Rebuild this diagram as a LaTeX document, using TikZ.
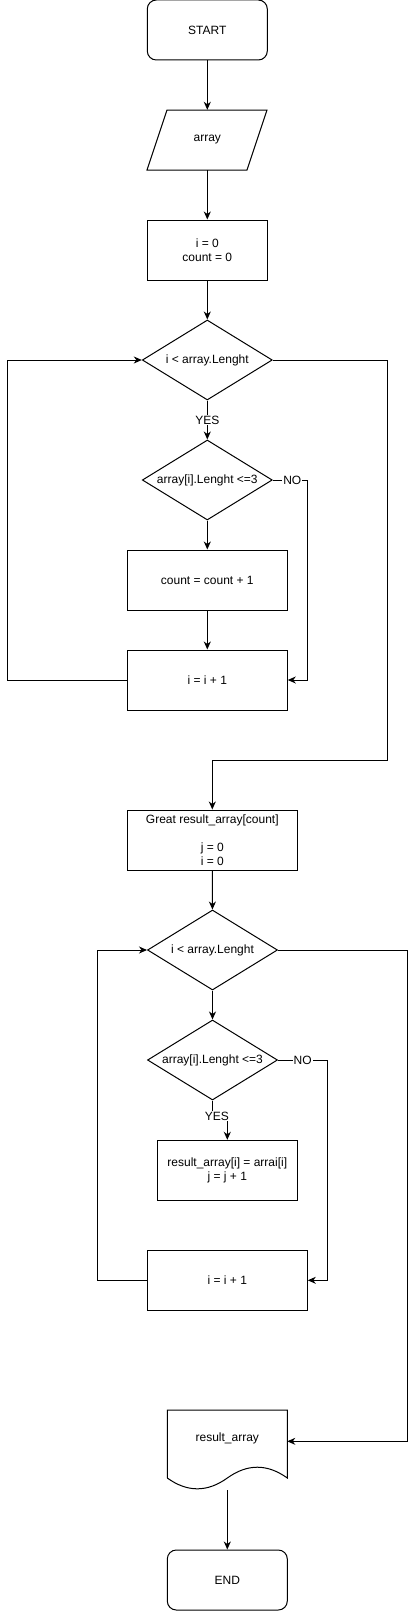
\documentclass[tikz,border=0pt]{standalone}
\usepackage{fontspec}
\setmainfont{Liberation Sans}
\usetikzlibrary{shapes.geometric,arrows.meta,calc}
\begin{document}
\begin{tikzpicture}[x=1pt,y=-1pt,
  every node/.style={font=\fontsize{12}{14}\selectfont, align=center, inner sep=0pt},
  proc/.style={draw, line width=1pt, minimum width=#1, minimum height=60pt},
  term/.style={draw, line width=1pt, rounded corners=9pt, minimum width=120pt, minimum height=60pt},
  dec/.style={draw, line width=1pt, diamond, aspect=1.625, minimum width=130pt, minimum height=80pt},
  shp/.style={line width=1pt},
  flow/.style={line width=1pt, -{Stealth[length=8pt,width=7pt,inset=2.5pt]}},
  lbl/.style={fill=white, inner sep=1pt}
]
\useasboundingbox (0,0) rectangle (416,1611);

% first part
\node[term] (start) at (207.3,30) {START};
\node[minimum width=120pt, minimum height=60pt] (arr) at (207.3,140) {array};
\draw[shp] (167,110) -- (267,110) -- (247,170) -- (147,170) -- cycle;
\node[proc=120pt] (init) at (207.3,250) {i = 0\\count = 0};
\node[dec] (d1) at (207.3,360) {\makebox[0pt]{i < array.Lenght}};
\node[dec] (d2) at (207.3,480) {\makebox[0pt]{array[i].Lenght <=3}};
\node[proc=160pt] (cnt) at (207.3,580) {count = count + 1};
\node[proc=160pt] (inc1) at (207.3,680) {i = i + 1};

% second part
\node[proc=170pt] (great) at (212.3,840) {Great result\_array[count]\\ \\j = 0\\i = 0};
\node[dec] (d3) at (212.5,950) {\makebox[0pt]{i < array.Lenght}};
\node[dec] (d4) at (212.5,1060) {\makebox[0pt]{array[i].Lenght <=3}};
\node[proc=140pt] (res) at (227.3,1170.3) {result\_array[i] = arrai[i]\\j = j + 1};
\node[proc=160pt] (inc2) at (227.3,1280.3) {i = i + 1};

% document shape
\node[minimum width=120pt, minimum height=80pt] (doc) at (227.3,1450) {\raisebox{8.5pt}[0pt][0pt]{result\_array}};
\draw[shp] (167.3,1478) -- (167.3,1410) -- (287.3,1410) -- (287.3,1478)
  .. controls (267.3,1463.6) and (247.3,1463.6) .. (227.3,1478)
  .. controls (207.3,1492.4) and (187.3,1492.4) .. (167.3,1478);
\coordinate (docin) at (287.3,1441.3);

\node[term] (end) at (227.3,1580) {END};

% connectors
\draw[flow] (start) -- (arr);
\draw[flow] (arr) -- (init);
\draw[flow] (init) -- (d1);
\draw[flow] (d1) -- node[lbl]{YES} (d2);
\draw[flow] (d2) -- (cnt);
\draw[flow] (cnt) -- (inc1);
\draw[flow] (d2.east) -- node[lbl,pos=0.57]{NO} (307,480) |- (inc1.east);
\draw[flow] (inc1.west) -- (7.3,680) |- (d1.west);
\draw[flow] (d1.east) -| (387.3,760.3) -| (great.north);

\draw[flow] (great) -- (d3);
\draw[flow] (d3) -- (d4);
\draw[flow] (d4.south) -- (212.5,1120) -- node[lbl,pos=0.3,yshift=4pt]{YES} (227.3,1120) -- (res.north);
\draw[flow] (d4.east) -- node[lbl]{NO} (327.3,1060) |- (inc2.east);
\draw[flow] (inc2.west) -- (97.3,1280.3) |- (d3.west);
\draw[flow] (d3.east) -| (407.3,1441.3) -- (docin);
\draw[flow] (doc.south) -- (end);
\end{tikzpicture}
\end{document}
